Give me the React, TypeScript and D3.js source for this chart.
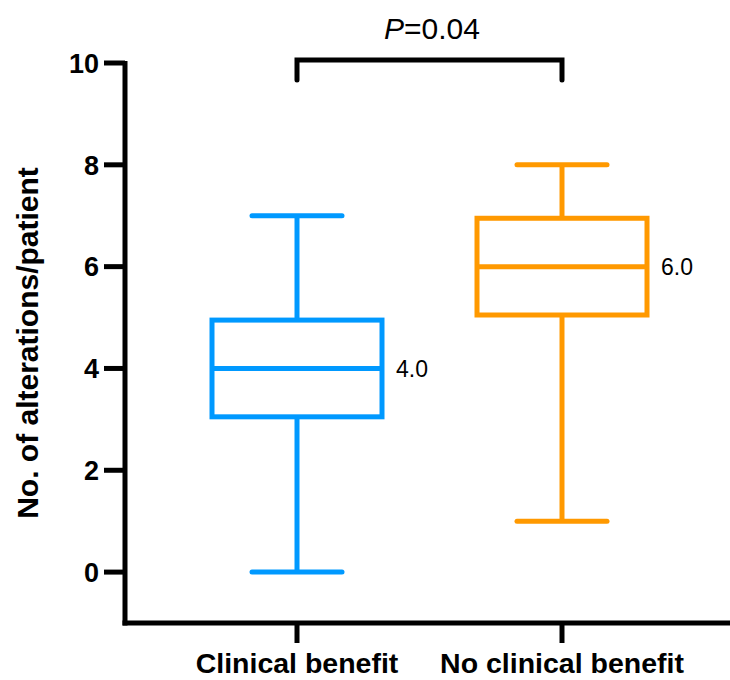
import React from "react";
import * as d3 from "d3";

const categories = ["Clinical benefit", "No clinical benefit"];
const whiskerLow = [0, 1];
const q1 = [3.05, 5.05];
const medians = [4, 6];
const q3 = [4.95, 6.95];
const whiskerHigh = [7, 8];
const medianLabels = ["4.0", "6.0"];
const colors = ["#0099FF", "#FF9900"];
const yTicks = [0, 2, 4, 6, 8, 10];
const pLabel = "0.04";

export default function App() {
  const W = 730, H = 680;
  const y = d3.scaleLinear().domain([-1, 10]).range([623, 63]);
  const x = d3.scalePoint<string>().domain(categories).range([297, 562]);
  const axisX = 125;
  const font = "'Liberation Sans', Arial, sans-serif";
  const sw = 5;
  const boxHalf = 85;
  const capHalf = 45;
  const bracketY = y(10.06);
  return (
    <svg width={W} height={H} style={{ position: "absolute", left: 0, top: 0 }}>
      {/* axes */}
      <line x1={axisX} x2={axisX} y1={y(10) - 2} y2={y(-1) + 2.5} stroke="#000" strokeWidth={sw} />
      <line x1={axisX - 2.5} x2={W} y1={y(-1)} y2={y(-1)} stroke="#000" strokeWidth={sw} />
      {yTicks.map((t) => (
        <g key={t}>
          <line x1={104} x2={axisX} y1={y(t)} y2={y(t)} stroke="#000" strokeWidth={sw} />
          <text x={99} y={y(t)} dy="0.36em" textAnchor="end" fontFamily={font} fontWeight="bold" fontSize={27}>{t}</text>
        </g>
      ))}
      {categories.map((c) => (
        <g key={c}>
          <line x1={x(c)} x2={x(c)} y1={y(-1)} y2={y(-1) + 20} stroke="#000" strokeWidth={sw} />
          <text x={x(c)} y={673} textAnchor="middle" fontFamily={font} fontWeight="bold" fontSize={28.5}>{c}</text>
        </g>
      ))}
      <text transform={`translate(38,${y(4.5)}) rotate(-90)`} textAnchor="middle" fontFamily={font} fontWeight="bold" fontSize={30}>
        No. of alterations/patient
      </text>
      {/* boxes */}
      {categories.map((c, i) => {
        const cx = x(c) as number;
        const col = colors[i];
        return (
          <g key={c} stroke={col} strokeWidth={sw} fill="none">
            <line x1={cx} x2={cx} y1={y(whiskerHigh[i])} y2={y(q3[i])} />
            <line x1={cx} x2={cx} y1={y(q1[i])} y2={y(whiskerLow[i])} />
            <line x1={cx - capHalf} x2={cx + capHalf} y1={y(whiskerHigh[i])} y2={y(whiskerHigh[i])} strokeLinecap="round" />
            <line x1={cx - capHalf} x2={cx + capHalf} y1={y(whiskerLow[i])} y2={y(whiskerLow[i])} strokeLinecap="round" />
            <rect x={cx - boxHalf} y={y(q3[i])} width={boxHalf * 2} height={y(q1[i]) - y(q3[i])} />
            <line x1={cx - boxHalf} x2={cx + boxHalf} y1={y(medians[i])} y2={y(medians[i])} />
            <text x={cx + boxHalf + 14} y={y(medians[i])} dy="0.36em" fill="#000" stroke="none" fontFamily={font} fontSize={23}>
              {medianLabels[i]}
            </text>
          </g>
        );
      })}
      {/* significance bracket */}
      <path
        d={`M${x(categories[0])},${bracketY + 20} V${bracketY} H${x(categories[1])} V${bracketY + 20}`}
        fill="none" stroke="#000" strokeWidth={sw} strokeLinecap="round" strokeLinejoin="miter"
      />
      <text x={432} y={39} textAnchor="middle" fontFamily={font} fontSize={30}>
        <tspan fontStyle="italic">P</tspan>={pLabel}
      </text>
    </svg>
  );
}
